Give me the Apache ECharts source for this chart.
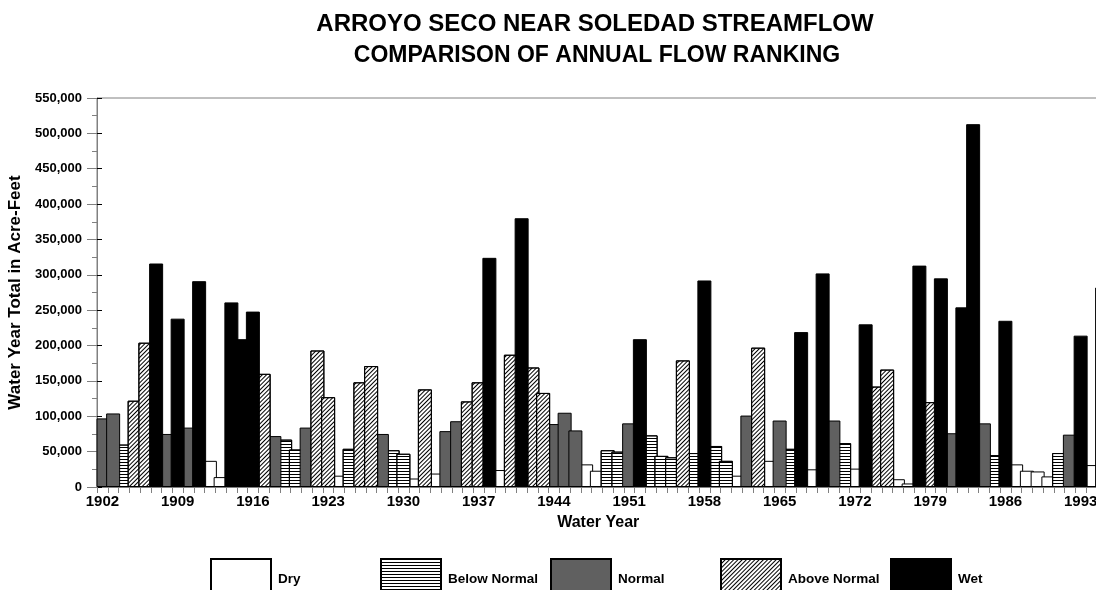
<!DOCTYPE html>
<html><head><meta charset="utf-8">
<script src="https://cdn.jsdelivr.net/npm/echarts@6/dist/echarts.min.js"></script>
<style>html,body{margin:0;padding:0;background:#fff}#c{width:1096px;height:590px}</style>
</head><body><div id="c"></div>
<script>
// ---- DATA ----
const years = ['1902','1903','1904','1905','1906','1907','1908','1909','1910','1911','1912','1913','1914','1915','1916','1917','1918','1919','1920','1921','1922','1923','1924','1925','1926','1927','1928','1929','1930','1931','1932','1933','1934','1935','1936','1937','1938','1939','1940','1941','1942','1943','1944','1945','1946','1947','1948','1949','1950','1951','1952','1953','1954','1955','1956','1957','1958','1959','1960','1961','1962','1963','1964','1965','1966','1967','1968','1969','1970','1971','1972','1973','1974','1975','1976','1977','1978','1979','1980','1981','1982','1983','1984','1985','1986','1987','1988','1989','1990','1991','1992','1993','1994','1995'];
const flow = [97000,104000,60000,122000,204000,316000,75000,238000,84000,291000,37000,14000,261000,209000,248000,160000,72000,67000,53000,84000,193000,127000,16000,54000,148000,171000,75000,52000,47000,12000,138000,19000,79000,93000,121000,148000,324000,24000,187000,380000,169000,133000,89000,105000,80000,32000,23000,52000,50000,90000,209000,73000,44000,42000,179000,48000,292000,58000,37000,16000,101000,197000,37000,94000,54000,219000,25000,302000,94000,62000,26000,230000,142000,166000,11000,5000,313000,120000,295000,76000,254000,513000,90000,45000,235000,32000,23000,22000,15000,48000,74000,214000,31000,282000];
const rank = ['N','N','B','A','A','W','N','W','N','W','D','D','W','W','W','A','N','B','B','N','A','A','D','B','A','A','N','B','B','D','A','D','N','N','A','A','W','D','A','W','A','A','N','N','N','D','D','B','B','N','W','B','B','B','A','B','W','B','B','D','N','A','D','N','B','W','D','W','N','B','D','W','A','A','D','D','W','A','W','N','W','W','N','B','W','D','D','D','D','B','N','W','D','W'];
const classCodes = ['D','B','N','A','W'];
const classNames = ['Dry','Below Normal','Normal','Above Normal','Wet'];
const TITLE = 'ARROYO SECO NEAR SOLEDAD STREAMFLOW';
const SUBTITLE = 'COMPARISON OF ANNUAL FLOW RANKING';
const X_NAME = 'Water Year';
const Y_NAME = 'Water Year Total in Acre-Feet';

// ---- STYLE ----
const FF = '"Liberation Sans", Arial, Helvetica, sans-serif';
const AXIS_GRAY = '#808080';
const BAND = 10.75;
const styles = {
  D: {color:'#ffffff'},
  B: {color:'#ffffff', decal:{symbol:'rect', symbolSize:1, dashArrayX:[1,0], dashArrayY:[1,2], color:'#000', rotation:0}},
  N: {color:'#606060'},
  A: {color:'#ffffff', decal:{symbol:'rect', symbolSize:1, dashArrayX:[1,0], dashArrayY:[1,1.2], color:'#000', rotation:-Math.PI/4}},
  W: {color:'#000000'}
};

const series = classCodes.map((code, ci) => ({
  name: classNames[ci],
  type: 'bar',
  data: flow.map((v, i) => rank[i] === code ? v : null),
  barWidth: 14,
  barGap: '-100%',
  clip: true,
  itemStyle: Object.assign({borderColor:'#000', borderWidth:1}, styles[code]),
  emphasis: {disabled: true}
}));

const legends = classNames.map((name, i) => ({
  data: [name],
  left: 205 + i * 170,
  top: 553,
  itemWidth: 60,
  itemHeight: 40,
  icon: 'rect',
  selectedMode: false,
  textStyle: {fontFamily: FF, fontWeight: 'bold', fontSize: 13.5, color: '#000', padding: [0,0,0,2]}
}));

const chart = echarts.init(document.getElementById('c'), null, {renderer: 'canvas'});
chart.setOption({
  animation: false,
  backgroundColor: '#ffffff',
  title: [
    {text: TITLE, left: 590, top: 7, textAlign: 'center', textStyle: {fontFamily: FF, fontWeight: 'bold', fontSize: 24, color: '#000'}},
    {text: SUBTITLE, left: 592, top: 39, textAlign: 'center', textStyle: {fontFamily: FF, fontWeight: 'bold', fontSize: 23, color: '#000'}}
  ],
  grid: {left: 97, top: 98, bottom: 103, width: years.length * BAND, show: true, borderColor: AXIS_GRAY, borderWidth: 1, backgroundColor: 'transparent', containLabel: false, outerBoundsMode: 'none'},
  legend: legends,
  xAxis: {
    type: 'category', data: years, boundaryGap: true,
    name: X_NAME, nameLocation: 'middle', nameGap: 28,
    nameTextStyle: {fontFamily: FF, fontWeight: 'bold', fontSize: 16, color: '#000', padding: [0, 8, 0, 0]},
    axisLine: {show: true, lineStyle: {color: AXIS_GRAY, width: 1}},
    axisTick: {show: true, interval: 0, length: 6, lineStyle: {color: AXIS_GRAY}},
    axisLabel: {interval: 6, margin: 7, color: '#000', fontFamily: FF, fontWeight: 'bold', fontSize: 15},
    splitLine: {show: false}
  },
  yAxis: [{
    type: 'value', min: 0, max: 550000, interval: 50000,
    name: Y_NAME, nameLocation: 'middle', nameGap: 65, nameRotate: 90,
    nameTextStyle: {fontFamily: FF, fontWeight: 'bold', fontSize: 17, color: '#000'},
    axisLine: {show: true, lineStyle: {color: AXIS_GRAY, width: 1}},
    axisTick: {show: true, inside: false, length: 10, lineStyle: {color: AXIS_GRAY}},
    minorTick: {show: true, splitNumber: 2, length: 5, lineStyle: {color: AXIS_GRAY}},
    axisLabel: {margin: 15, color: '#000', fontFamily: FF, fontWeight: 'bold', fontSize: 13,
      formatter: v => v.toLocaleString('en-US')},
    splitLine: {show: false}
  }, {
    type: 'value', min: 0, max: 550000, interval: 50000, position: 'left',
    axisLine: {show: false},
    axisTick: {show: true, inside: true, length: 5, lineStyle: {color: '#000'}},
    axisLabel: {show: false},
    splitLine: {show: false}
  }],
  series: series
});
</script>
</body></html>
